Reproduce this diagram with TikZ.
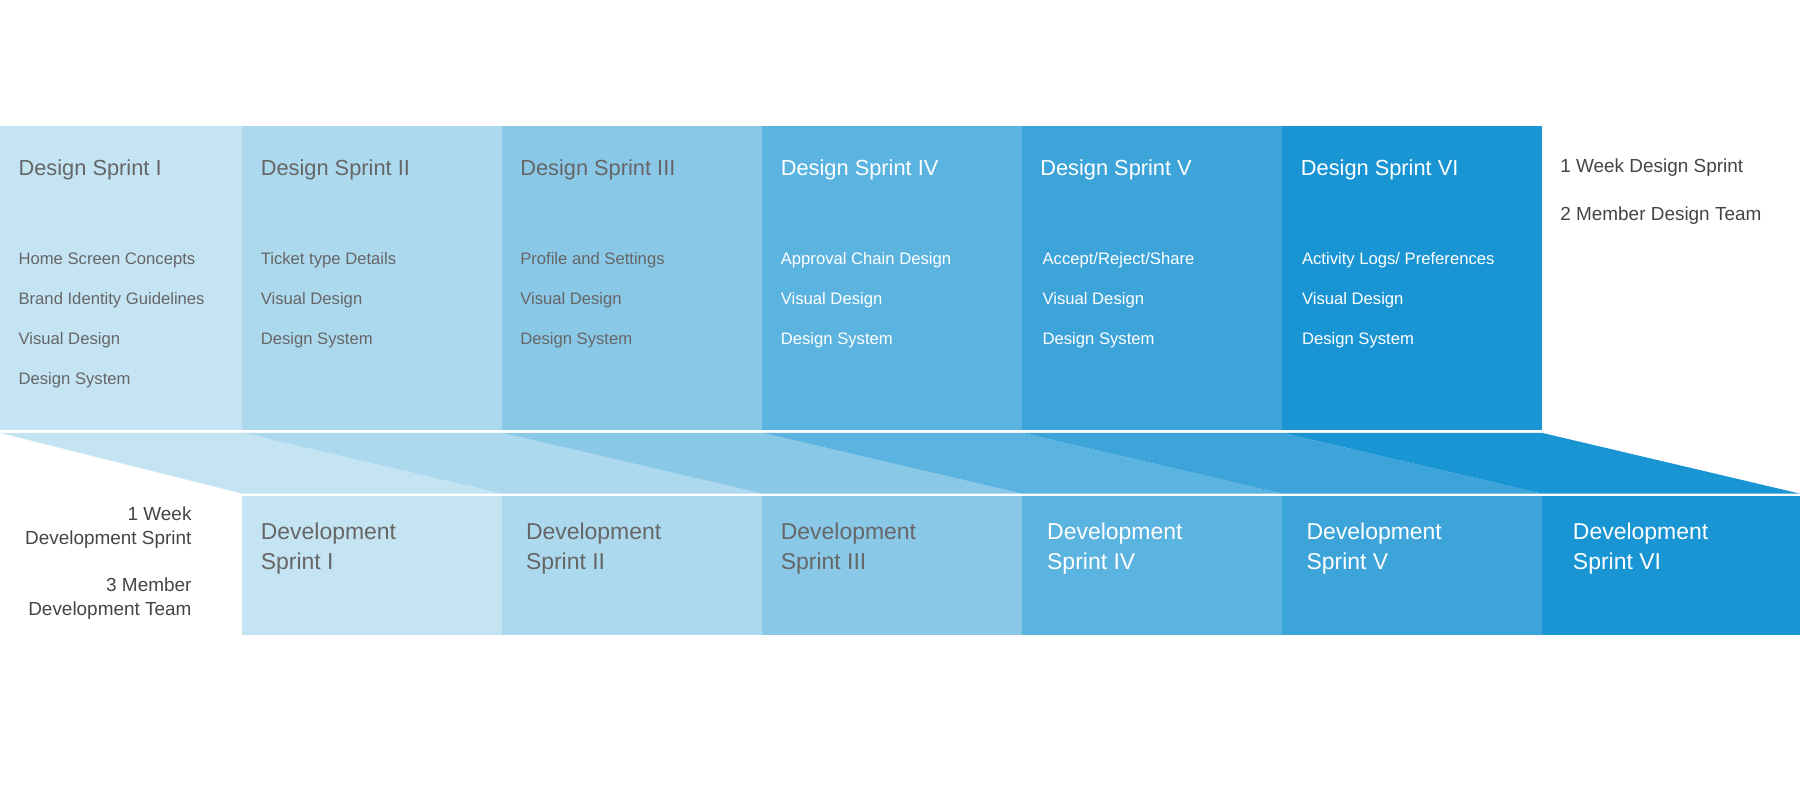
\documentclass[tikz,border=0pt]{standalone}
\usepackage{fontspec}
\setmainfont{Liberation Sans}
\definecolor{ca}{HTML}{C5E4F3}
\definecolor{cb}{HTML}{ADD9EE}
\definecolor{cc}{HTML}{8AC8E8}
\definecolor{cd}{HTML}{5BB3E0}
\definecolor{ce}{HTML}{3DA4DA}
\definecolor{cf}{HTML}{1A95D3}
\definecolor{tg}{HTML}{666666}
\definecolor{td}{HTML}{444444}
\begin{document}
\begin{tikzpicture}[x=1pt,y=-1pt,
  head/.style={anchor=base west,inner sep=0pt,font=\fontsize{19}{22}\selectfont},
  item/.style={anchor=base west,inner sep=0pt,font=\fontsize{14.5}{17}\selectfont},
  devt/.style={anchor=north west,inner sep=0pt,align=left,font=\fontsize{20}{26}\selectfont},
  side/.style={inner sep=0pt,font=\fontsize{16.5}{21}\selectfont,text=td}]
\useasboundingbox (0,0) rectangle (1568,697);
\def\xs{{0,211,437,664,890,1117,1343,1568}}
\foreach \c [count=\i from 0] in {ca,cb,cc,cd,ce,cf}{
  \pgfmathsetmacro\xa{\xs[\i]}
  \pgfmathsetmacro\xb{\xs[\i+1]}
  \pgfmathsetmacro\xc{\xs[\i+2]}
  \fill[\c] (\xa,110) rectangle (\xb,375);
  \fill[\c] (\xa,377) -- (\xb,377) -- (\xc,430) -- (\xb,430) -- cycle;
  \fill[\c] (\xb,432) rectangle (\xc,553);
}
% headings
\foreach \x/\t/\tc [count=\i] in {16/I/tg,227/II/tg,453/III/tg,680/IV/white,906/V/white,1133/VI/white}
  \node[head,text=\tc] (h\i) at (\x,153) {Design Sprint \t};
% items
\node[item,text=tg] (a1) at (16,230) {Home Screen Concepts};
\node[item,text=tg] (a2) at (16,265) {Brand Identity Guidelines};
\node[item,text=tg] (a3) at (16,300) {Visual Design};
\node[item,text=tg] (a4) at (16,335) {Design System};
\foreach \x/\f/\tc [count=\i] in {227/{Ticket type Details}/tg,453/{Profile and Settings}/tg,680/{Approval Chain Design}/white,908/{Accept/Reject/Share}/white,1134/{Activity Logs/ Preferences}/white}{
  \node[item,text=\tc] (b\i) at (\x,230) {\f};
  \node[item,text=\tc] (c\i) at (\x,265) {Visual Design};
  \node[item,text=\tc] (d\i) at (\x,300) {Design System};
}
% dev titles
\foreach \x/\t/\tc [count=\i] in {227/I/tg,458/II/tg,680/III/tg,912/IV/white,1138/V/white,1370/VI/white}
  \node[devt,text=\tc] (dv\i) at (\x,455) {Development\\Sprint \t};
% side texts
\node[side,anchor=base west] (r1) at (1359,150) {1 Week Design Sprint};
\node[side,anchor=base west] (r2) at (1359,192) {2 Member Design Team};
\node[side,anchor=north east,align=right] (l1) at (167,441) {1 Week\\Development Sprint};
\node[side,anchor=north east,align=right] (l2) at (167,503) {3 Member\\Development Team};
\end{tikzpicture}
\end{document}
